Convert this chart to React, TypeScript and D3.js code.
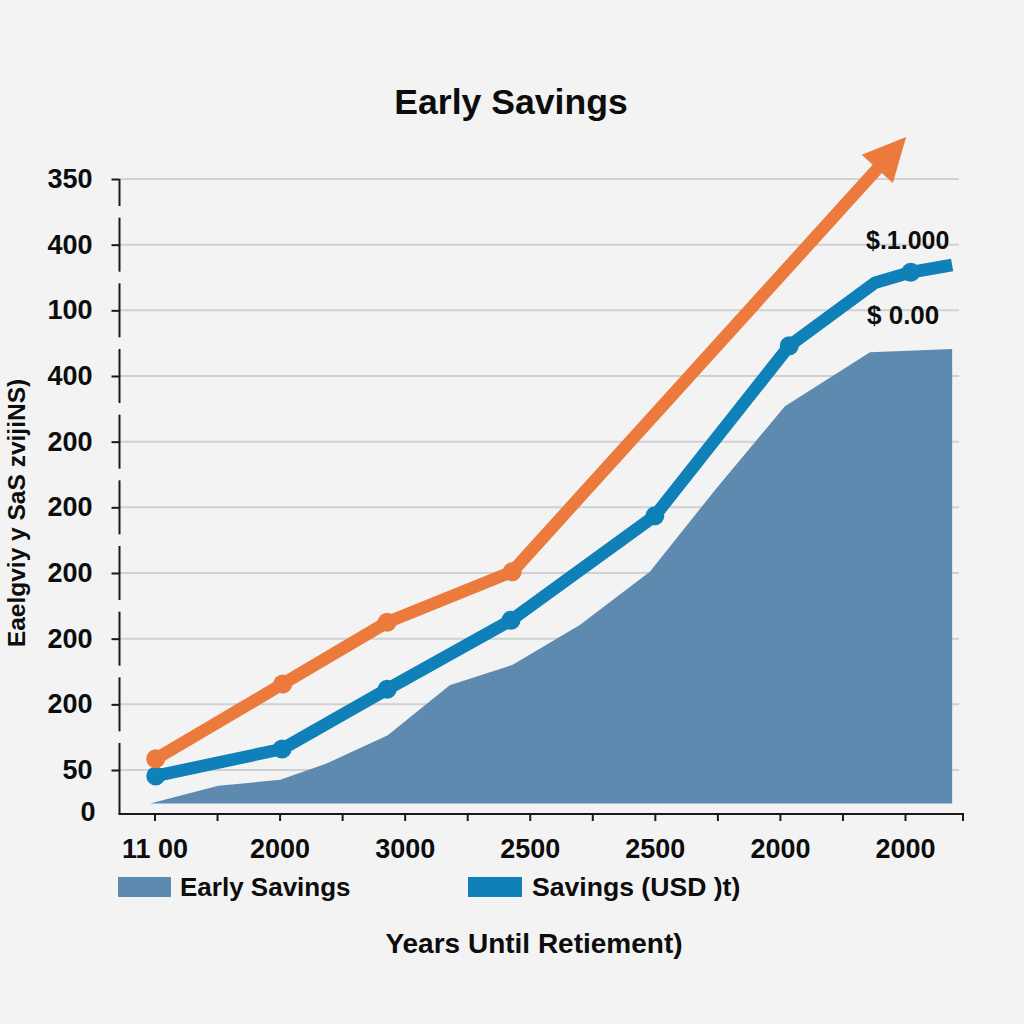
import React, { useEffect, useRef } from 'react';
import * as d3 from 'd3';

const yTicks = [0, 67, 167, 267, 367, 467, 567, 667, 767, 867, 967];
const yLabels = ['0', '50', '200', '200', '200', '200', '200', '400', '100', '400', '350'];
const xTicks = [0, 1, 2, 3, 4, 5, 6, 7, 8, 9, 10, 11, 12, 13];
const xLabels = ['11 00', '', '2000', '', '3000', '', '2500', '', '2500', '', '2000', '', '2000', ''];

const orangeX = [0.02, 2.05, 3.72, 5.72, 12.02];
const orangeY = [84, 198, 292, 369, 1031];
const blueX = [0.02, 2.04, 3.72, 5.7, 8.0, 10.15, 11.52, 12.1, 12.82];
const blueY = [58, 99, 190, 295, 454, 713, 809, 825, 836];
const blueMarked = [true, true, true, true, true, true, false, true, false];
const areaX = [-0.07, 1.02, 2.01, 2.73, 3.73, 4.72, 5.72, 6.8, 7.92, 8.96, 10.08, 11.44, 12.82];
const areaY = [16, 43, 52, 76, 120, 196, 227, 288, 369, 493, 621, 703, 708];
const areaBase = 16;

const FONT = '"Liberation Sans", Arial, sans-serif';
const BG = '#f3f3f3';
const ORANGE = '#ec7a3c';
const BLUE = '#0f80b8';
const AREA = '#5f8ab0';
const INK = '#0d0d0d';

export default function App() {
  const svgRef = useRef<SVGSVGElement>(null);

  useEffect(() => {
    if (!svgRef.current) return;
    const svg = d3.select(svgRef.current);
    svg.selectAll('*').remove();
    svg.style('font-family', FONT);

    // last tick interval is a bit shorter in the picture
    const x = d3.scaleLinear().domain([0, 12, 13]).range([154.5, 905, 962.5]);
    const y = d3.scaleLinear().domain([0, 967]).range([814, 179]);
    const axisLeftX = 119.5;

    svg.append('rect').attr('width', 1024).attr('height', 1024).attr('fill', BG);

    // gridlines
    svg.append('g')
      .selectAll('line')
      .data(yTicks.slice(1))
      .enter()
      .append('line')
      .attr('x1', axisLeftX)
      .attr('x2', 959)
      .attr('y1', d => y(d))
      .attr('y2', d => y(d))
      .attr('stroke', '#cfd1d2')
      .attr('stroke-width', 2);

    // area
    const area = d3.area<number>()
      .x(d => x(areaX[d]))
      .y0(y(areaBase))
      .y1(d => y(areaY[d]));
    svg.append('path').datum(d3.range(areaX.length)).attr('fill', AREA).attr('d', area);

    // y axis
    const yAxis = svg.append('g')
      .attr('transform', `translate(${axisLeftX},0)`)
      .call(
        d3.axisLeft(y)
          .tickValues(yTicks)
          .tickSize(8)
          .tickPadding(19)
          .tickFormat((d, i) => yLabels[i])
      );
    yAxis.select('.domain').remove();
    yAxis.selectAll('line').attr('stroke', '#1a1a1a').attr('stroke-width', 2);
    yAxis.selectAll('.tick').filter(d => d === 0).select('line').remove();
    yAxis.selectAll('text')
      .attr('fill', INK)
      .style('font-family', FONT)
      .style('font-size', '27px')
      .style('font-weight', 700);
    yAxis.selectAll('.tick').filter(d => d === 0).select('text').attr('x', -24).attr('dy', '0.25em');

    // broken y axis line, one piece around each tick
    svg.append('g')
      .selectAll('line')
      .data(yTicks.slice(1))
      .enter()
      .append('line')
      .attr('x1', axisLeftX)
      .attr('x2', axisLeftX)
      .attr('y1', d => (d === 967 ? y(d) : y(d) - 27))
      .attr('y2', d => (d === 67 ? y(0) : y(d) + 27))
      .attr('stroke', '#1a1a1a')
      .attr('stroke-width', 2);

    // x axis
    const xAxis = svg.append('g')
      .attr('transform', `translate(0,${y(0)})`)
      .call(
        d3.axisBottom(x)
          .tickValues(xTicks)
          .tickSize(7)
          .tickPadding(18)
          .tickFormat((d, i) => xLabels[i])
      );
    xAxis.select('.domain').remove();
    xAxis.selectAll('line').attr('stroke', '#1a1a1a').attr('stroke-width', 2);
    xAxis.selectAll('text')
      .attr('fill', INK)
      .style('font-family', FONT)
      .style('font-size', '27px')
      .style('font-weight', 700);
    svg.append('line')
      .attr('x1', axisLeftX - 1)
      .attr('x2', 964)
      .attr('y1', y(0))
      .attr('y2', y(0))
      .attr('stroke', '#1a1a1a')
      .attr('stroke-width', 2);

    // blue line
    const blueLine = d3.line<number>().x(d => x(blueX[d])).y(d => y(blueY[d]));
    svg.append('path')
      .datum(d3.range(blueX.length))
      .attr('fill', 'none')
      .attr('stroke', BLUE)
      .attr('stroke-width', 12.5)
      .attr('stroke-linejoin', 'round')
      .attr('d', blueLine);
    svg.append('g')
      .selectAll('circle')
      .data(d3.range(blueX.length).filter(i => blueMarked[i]))
      .enter()
      .append('circle')
      .attr('cx', d => x(blueX[d]))
      .attr('cy', d => y(blueY[d]))
      .attr('r', 9.5)
      .attr('fill', BLUE);

    // orange line, shortened so it stops inside the arrow head
    const n = orangeX.length;
    const tipX = x(orangeX[n - 1]);
    const tipY = y(orangeY[n - 1]);
    const prevX = x(orangeX[n - 2]);
    const prevY = y(orangeY[n - 2]);
    const len = Math.hypot(tipX - prevX, tipY - prevY);
    const ux = (tipX - prevX) / len;
    const uy = (tipY - prevY) / len;
    const headLen = 43;
    const headHalf = 21;
    const baseX = tipX - ux * headLen;
    const baseY = tipY - uy * headLen;

    const orangePts: [number, number][] = orangeX.slice(0, -1).map((v, i) => [x(v), y(orangeY[i])]);
    orangePts.push([baseX + ux * 4, baseY + uy * 4]);
    svg.append('path')
      .attr('fill', 'none')
      .attr('stroke', ORANGE)
      .attr('stroke-width', 12.5)
      .attr('stroke-linejoin', 'round')
      .attr('d', d3.line()(orangePts));
    svg.append('path')
      .attr('fill', ORANGE)
      .attr('d', d3.line()([
        [tipX, tipY],
        [baseX - uy * headHalf, baseY + ux * headHalf],
        [baseX + uy * headHalf, baseY - ux * headHalf],
      ]) + 'Z');
    svg.append('g')
      .selectAll('circle')
      .data(d3.range(n - 1))
      .enter()
      .append('circle')
      .attr('cx', d => x(orangeX[d]))
      .attr('cy', d => y(orangeY[d]))
      .attr('r', 9.5)
      .attr('fill', ORANGE);

    const label = (text: string, px: number, py: number, size: number, anchor = 'start') =>
      svg.append('text')
        .attr('x', px)
        .attr('y', py)
        .attr('text-anchor', anchor)
        .attr('fill', INK)
        .style('font-size', `${size}px`)
        .style('font-weight', 700)
        .text(text);

    label('Early Savings', 511, 114, 35.6, 'middle');
    label('$.1.000', 866, 249, 25);
    label('$ 0.00', 867, 324, 26);
    label('Years Until Retiement)', 534, 953, 28, 'middle');

    label('Eaelgviy y SaS zvijiNS)', 0, 0, 24.5, 'middle')
      .attr('transform', 'translate(25,513) rotate(-90)');

    // legend
    svg.append('rect').attr('x', 118).attr('y', 877).attr('width', 53).attr('height', 20).attr('fill', AREA);
    label('Early Savings', 180, 896, 26);
    svg.append('rect').attr('x', 468).attr('y', 877).attr('width', 54).attr('height', 20).attr('fill', BLUE);
    label('Savings (USD )t)', 532, 896, 26.6);
  }, []);

  return (
    <svg
      ref={svgRef}
      width={1024}
      height={1024}
      style={{ position: 'absolute', left: 0, top: 0, display: 'block' }}
    />
  );
}
